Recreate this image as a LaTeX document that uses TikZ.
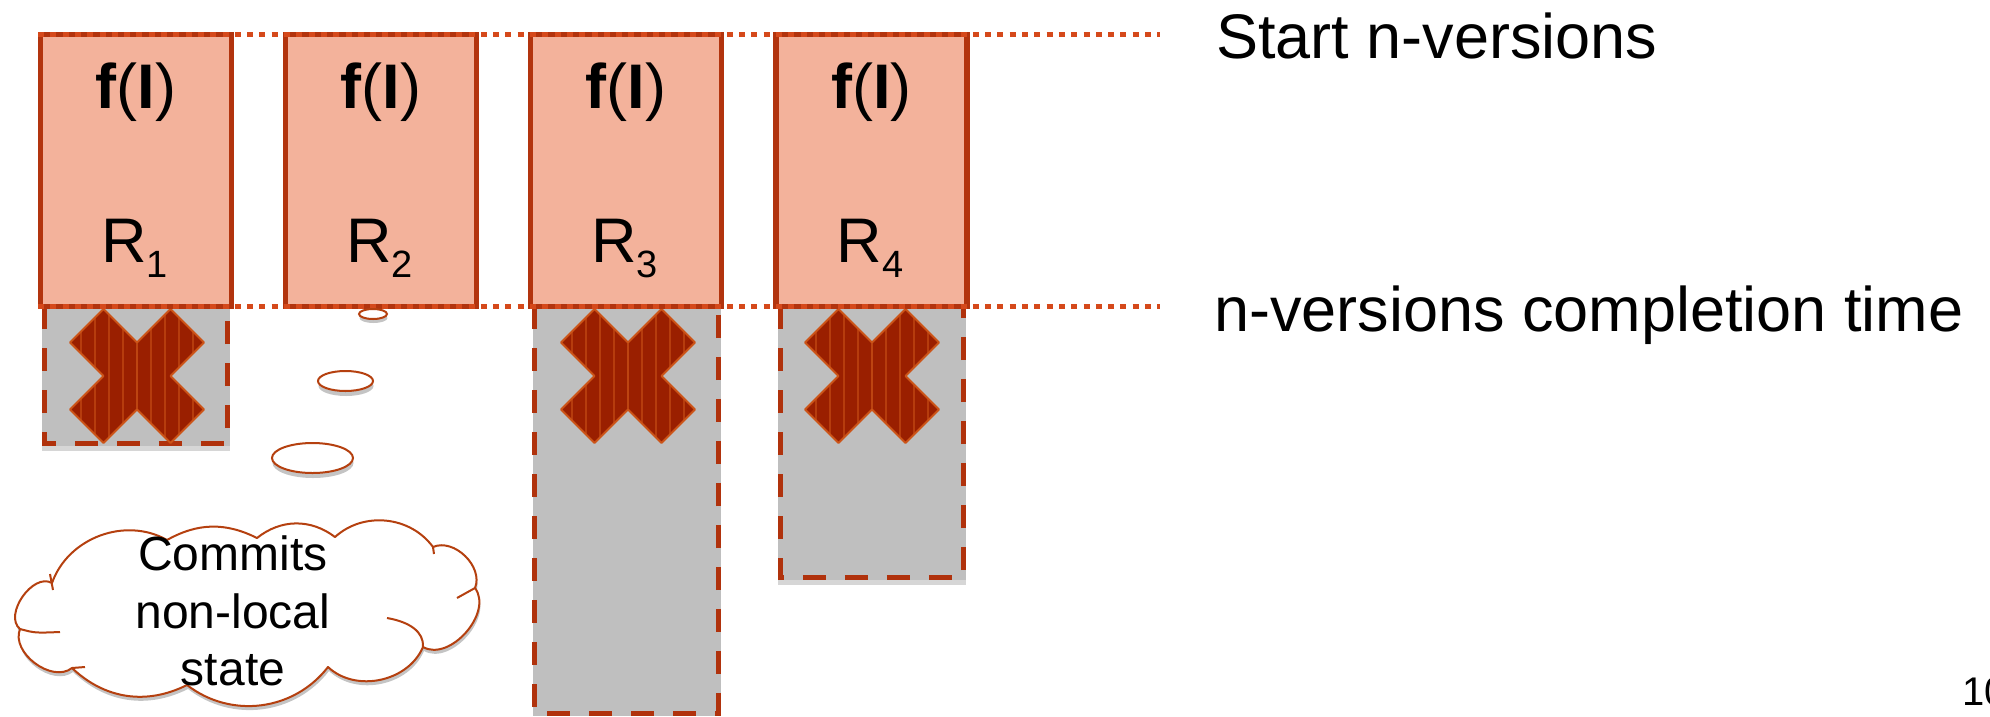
\documentclass[tikz,border=0pt]{standalone}
\usepackage{fontspec}
\setmainfont{Liberation Sans}

\definecolor{boxfill}{HTML}{F3B29B}
\definecolor{boxline}{HTML}{B2340E}
\definecolor{guide}{HTML}{D5491B}
\definecolor{failgray}{HTML}{BFBFBF}
\definecolor{failshade}{HTML}{D6D6D6}
\definecolor{faildash}{HTML}{B0320C}
\definecolor{crossfill}{HTML}{9A1F00}
\definecolor{crossline}{HTML}{CC5418}
\definecolor{cloudline}{HTML}{B5400F}
\definecolor{cloudshade}{HTML}{C4C4C4}

\newcommand\rsub[1]{\raisebox{-15pt}{\fontsize{38}{38}\selectfont #1}}

\tikzset{
  versionbox/.style={draw=boxline, line width=5.5pt, fill=boxfill,
    minimum width=191pt, minimum height=272pt, inner sep=0pt},
  failarea/.style={fill=failgray, inner sep=0pt, minimum width=188pt},
  faildashes/.style={draw=faildash, line width=5pt, dash pattern=on 23pt off 19pt},
  guideline/.style={draw=guide, line width=5.5pt, dash pattern=on 6pt off 6.3pt},
  bigtext/.style={font=\fontsize{63}{75}\selectfont, inner sep=0pt, anchor=base},
  cloudtext/.style={font=\fontsize{48}{57}\selectfont, inner sep=0pt, anchor=base},
  bubble/.style={draw=cloudline, line width=2pt, fill=white},
  bubbleshade/.style={fill=cloudshade},
  failmark/.pic={
    \def\crosspath{(0,-33.5) -- (33.5,-67) -- (67,-33.5) -- (33.5,0) -- (67,33.5)
      -- (33.5,67) -- (0,33.5) -- (-33.5,67) -- (-67,33.5) -- (-33.5,0)
      -- (-67,-33.5) -- (-33.5,-67) -- cycle}
    \fill[crossfill] \crosspath;
    \begin{scope}
      \clip \crosspath;
      \foreach \s in {-56,-42,...,56}
        \draw[crossline!55!crossfill, line width=1.3pt] (\s,-70) -- (\s,70);
      \draw[crossline!70!crossfill, line width=2pt] (0,-70) -- (0,70);
    \end{scope}
    \draw[crossline, line width=2pt, line join=round] \crosspath;
  }
}

\begin{document}
\begin{tikzpicture}[x=1pt,y=-1pt]
\useasboundingbox (0,0) rectangle (1990,716);

% regions after completion time (failed / overrunning versions)
\fill[failshade] (42,440) rectangle (230,451);
\fill[failshade] (778,575) rectangle (966,585);
\node[failarea, minimum height=140pt, anchor=north] (g1) at (136,306) {};
\node[failarea, minimum height=410pt, anchor=north] (g3) at (626.5,306) {};
\node[failarea, minimum height=274pt, anchor=north] (g4) at (872,306) {};
\draw[faildashes] ([xshift=2.5pt]g1.north west) -- ([shift={(2.5pt,3pt)}]g1.south west)
  -- ([shift={(-2.5pt,3pt)}]g1.south east) -- ([xshift=-2.5pt]g1.north east);
\draw[faildashes] ([xshift=2.5pt]g3.north west) -- ([shift={(2.5pt,3pt)}]g3.south west)
  -- ([shift={(-2.5pt,3pt)}]g3.south east) -- ([xshift=-2.5pt]g3.north east);
\draw[faildashes] ([xshift=2.5pt]g4.north west) -- ([shift={(2.5pt,3pt)}]g4.south west)
  -- ([shift={(-2.5pt,3pt)}]g4.south east) -- ([xshift=-2.5pt]g4.north east);

\pic at (137,376) {failmark};
\pic at (628,376) {failmark};
\pic at (872,376) {failmark};

% the n versions
\node[versionbox] (r1) at (136,170.5) {};
\node[versionbox] (r2) at (381,170.5) {};
\node[versionbox] (r3) at (626,170.5) {};
\node[versionbox] (r4) at (871.5,170.5) {};

% start and completion guides
\coordinate (starta) at (38,34.5);
\coordinate (startb) at (1160,34.5);
\coordinate (enda) at (38,306.5);
\coordinate (endb) at (1160,306.5);
\draw[guideline] (starta) -- (startb);
\draw[guideline] (enda) -- (endb);

\foreach \i/\x in {1/136,2/381,3/626,4/871.5}{
  \node[bigtext] (f\i) at (\x,108) {\textbf{f}(\textbf{I})};
  \node[bigtext] (n\i) at (\x-1.5,262) {R\rsub{\i}};
}

\node[bigtext, anchor=base west] (lstart) at (1216,58) {Start n-versions};
\node[bigtext, anchor=base west] (lend) at (1214,331) {n-versions completion time};
\node[font=\fontsize{40}{40}\selectfont, inner sep=0pt, anchor=base west] (page) at (1962,705) {10};

% thought bubbles
\fill[bubbleshade] (373.5,318) ellipse [x radius=14pt, y radius=5pt];
\draw[bubble] (373,314) ellipse [x radius=14pt, y radius=5pt];
\fill[bubbleshade] (346,386) ellipse [x radius=27.5pt, y radius=10pt];
\draw[bubble] (345.5,381) ellipse [x radius=27.5pt, y radius=10pt];
\fill[bubbleshade] (313,463) ellipse [x radius=40.5pt, y radius=15pt];
\draw[bubble] (312.5,458) ellipse [x radius=40.5pt, y radius=15pt];

% cloud
\def\cloudpath{(52,583) to[bend right=85] (20,629) to[bend right=75] (72,668)
  to[bend right=35] (187,685) to[bend right=45] (328,667) to[bend right=55] (423,647)
  to[bend right=78] (475,588) to[bend right=68] (433,547) to[bend right=48] (335,537)
  to[bend right=38] (257,538) to[bend right=28] (167,540) to[bend right=50] (52,583)}
\fill[cloudshade, shift={(1,4)}] \cloudpath;
\draw[bubble, line join=round] \cloudpath;
\draw[cloudline, line width=2pt] (50,574) -- (53,590);
\draw[cloudline, line width=2pt] (20,629) .. controls (35,633) .. (60,632);
\draw[cloudline, line width=2pt] (72,668) -- (85,667);
\draw[cloudline, line width=2pt] (423,647) .. controls (424,632) and (410,622) .. (387,618);
\draw[cloudline, line width=2pt] (475,588) -- (457,598);
\draw[cloudline, line width=2pt] (433,547) -- (434,554);

\node[cloudtext] (c1) at (233,570) {Commits};
\node[cloudtext] (c2) at (233,628) {non-local};
\node[cloudtext] (c3) at (233,685) {state};
\end{tikzpicture}
\end{document}
